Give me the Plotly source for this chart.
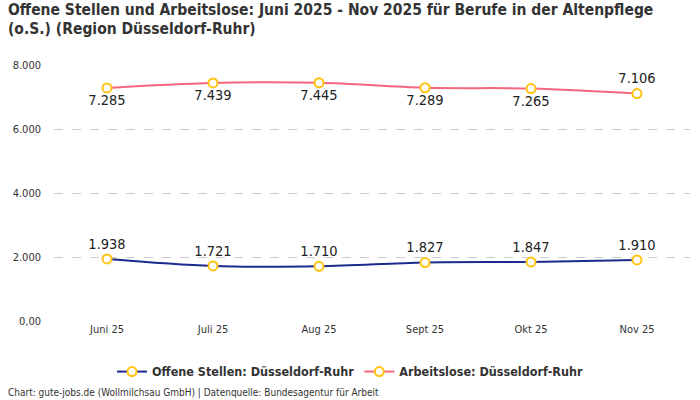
import plotly.graph_objects as go

months = ["Juni 25", "Juli 25", "Aug 25", "Sept 25", "Okt 25", "Nov 25"]
offene_stellen = [1938, 1721, 1710, 1827, 1847, 1910]
arbeitslose = [7285, 7439, 7445, 7289, 7265, 7106]
y_ticks = [0, 2000, 4000, 6000, 8000]
y_tick_text = ["0,00", "2.000", "4.000", "6.000", "8.000"]


def de_num(v):
    return f"{v:,}".replace(",", ".")


font = "DejaVu Sans Condensed, Roboto, sans-serif"
marker = dict(size=9, color="white", line=dict(color="#FFC20E", width=2))

fig = go.Figure()
fig.add_trace(go.Scatter(
    x=months, y=offene_stellen, name="Offene Stellen: Düsseldorf-Ruhr",
    mode="lines+markers+text", line=dict(color="#1B2A8C", width=2, shape="spline"),
    marker=marker, text=[de_num(v) for v in offene_stellen],
    textposition="top center", textfont=dict(size=14.5, color="#222"),
))
fig.add_trace(go.Scatter(
    x=months, y=arbeitslose, name="Arbeitslose: Düsseldorf-Ruhr",
    mode="lines+markers+text", line=dict(color="#F7667F", width=2, shape="spline"),
    marker=marker, text=[de_num(v) for v in arbeitslose],
    textposition=["bottom center"] * 5 + ["top center"],
    textfont=dict(size=14.5, color="#222"),
))

fig.update_layout(
    width=700, height=400,
    margin=dict(l=54, r=10, t=65, b=79, autoexpand=False),
    paper_bgcolor="white", plot_bgcolor="white",
    font=dict(family=font, color="#333"),
    legend=dict(orientation="h", xref="container", x=0.5, xanchor="center",
                y=-0.199, yanchor="middle",
                font=dict(size=12.5, color="#333", weight="bold")),
    showlegend=True,
)
fig.update_xaxes(range=[-0.5, 5.5], showgrid=False, showline=False, ticks="",
                 tickfont=dict(size=11, color="#333"))
fig.update_yaxes(range=[0, 8000], tickvals=y_ticks, ticktext=y_tick_text,
                 showgrid=True, gridcolor="#cccccc", griddash="dash", zeroline=False,
                 tickfont=dict(size=11, color="#333"), ticklabelstandoff=12)

# title lines as separate annotations (tighter line spacing)
title_font = dict(size=15.5, color="#333", weight="bold")
fig.add_annotation(
    text="Offene Stellen und Arbeitslose: Juni 2025 - Nov 2025 für Berufe in der Altenpflege",
    xref="paper", yref="paper", x=-0.075, y=1.215, xanchor="left", yanchor="middle",
    showarrow=False, font=title_font,
)
fig.add_annotation(
    text="(o.S.) (Region Düsseldorf-Ruhr)",
    xref="paper", yref="paper", x=-0.075, y=1.14, xanchor="left", yanchor="middle",
    showarrow=False, font=title_font,
)
fig.add_annotation(
    text="Chart: gute-jobs.de (Wollmilchsau GmbH) | Datenquelle: Bundesagentur für Arbeit",
    xref="paper", yref="paper", x=-0.075, y=-0.281, xanchor="left", yanchor="middle",
    showarrow=False, font=dict(size=10, color="#333"),
)

fig.write_html("out.html", config={"displayModeBar": False},
               post_script="document.body.style.margin='0';")
